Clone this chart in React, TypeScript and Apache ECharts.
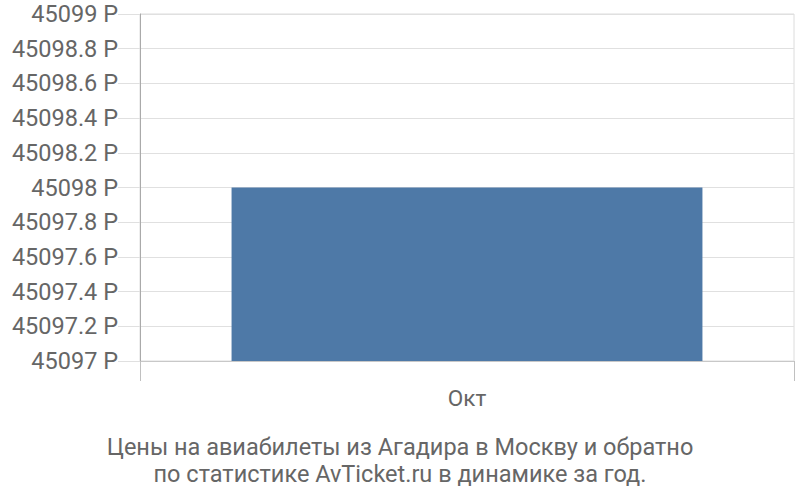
import { useEffect, useRef } from 'react'
import * as echarts from 'echarts'

// ===== data =====
const months = ['Окт']
const prices = [45098]
const yMin = 45097
const yMax = 45099
const yStep = 0.2
const titleLines = [
  'Цены на авиабилеты из Агадира в Москву и обратно',
  'по статистике AvTicket.ru в динамике за год.',
]

const FONT = 'Roboto, "Liberation Sans", sans-serif'

export default function App() {
  const ref = useRef<HTMLDivElement>(null)

  useEffect(() => {
    if (!ref.current) return
    const chart = echarts.init(ref.current, null, { renderer: 'svg' })
    chart.setOption({
      animation: false,
      textStyle: { fontFamily: FONT },
      grid: {
        left: 140, right: 6, top: 14, bottom: 139,
        show: true, borderColor: '#dcdcdc', borderWidth: 1,
      },
      title: {
        text: titleLines.join('\n'),
        left: 'center',
        top: 428,
        textStyle: {
          fontFamily: FONT, fontSize: 23.5, fontWeight: 'normal',
          color: '#666', lineHeight: 27,
        },
      },
      xAxis: {
        type: 'category',
        data: months,
        boundaryGap: true,
        axisLine: { lineStyle: { color: '#c8c8c8' } },
        axisTick: { show: true, length: 20, lineStyle: { color: '#c0c0c0' } },
        axisLabel: { fontSize: 22.5, color: '#666', margin: 25, fontFamily: FONT },
      },
      yAxis: {
        type: 'value',
        min: yMin,
        max: yMax,
        interval: yStep,
        axisLine: { show: true, lineStyle: { color: '#aaa' } },
        axisTick: { show: true, length: 22, lineStyle: { color: '#e0e0e0' } },
        axisLabel: {
          fontSize: 23.5, color: '#666', margin: 22, fontFamily: FONT,
          formatter: (v: number) => `${+v.toFixed(1)} Р`,
        },
        splitLine: { lineStyle: { color: '#e0e0e0' } },
      },
      series: [
        {
          type: 'bar',
          data: prices,
          barWidth: '72%',
          itemStyle: { color: '#4e79a7' },
        },
      ],
    })
    return () => chart.dispose()
  }, [])

  return (
    <div
      ref={ref}
      style={{ position: 'absolute', left: 0, top: 0, width: 800, height: 500 }}
    />
  )
}
